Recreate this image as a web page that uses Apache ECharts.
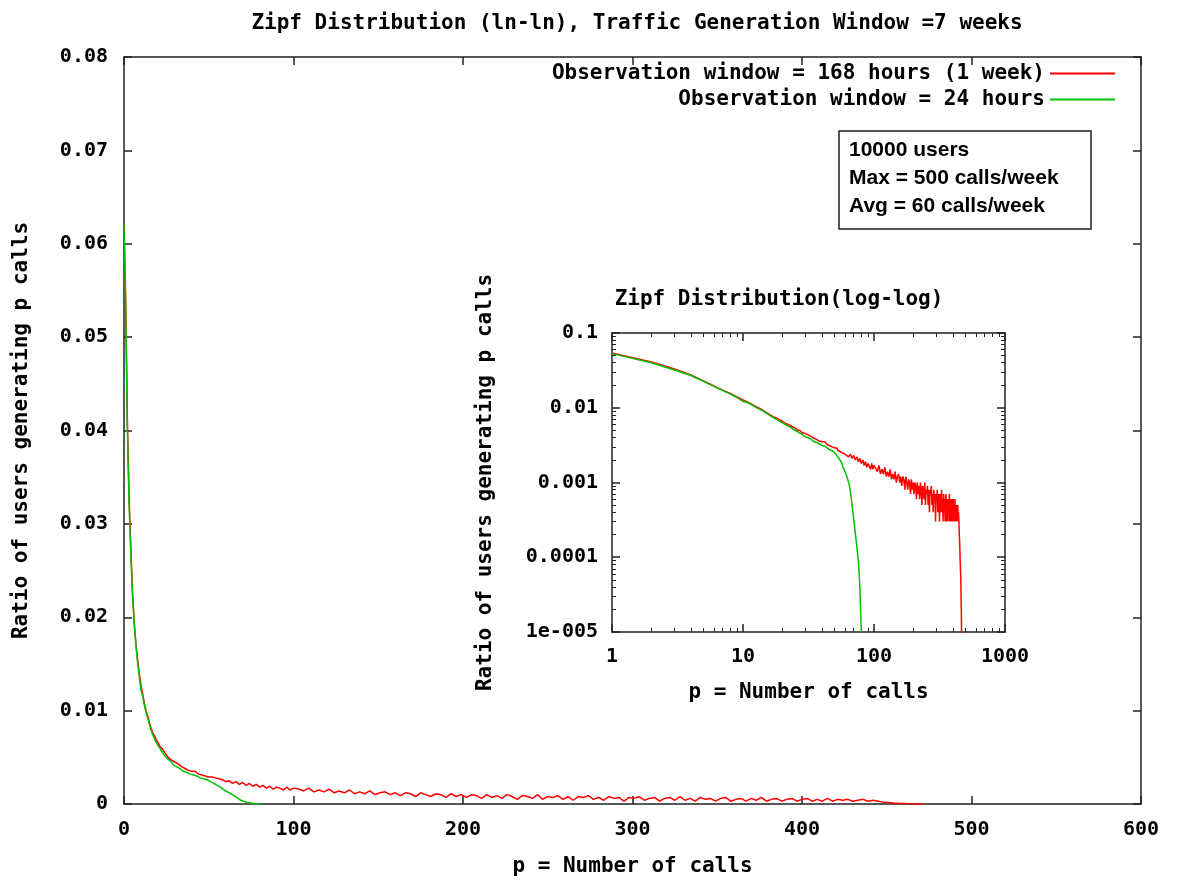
<!DOCTYPE html>
<html>
<head>
<meta charset="utf-8">
<title>Zipf Distribution</title>
<script src="https://cdn.jsdelivr.net/npm/echarts@6/dist/echarts.min.js"></script>
<style>
  html, body { margin: 0; padding: 0; background: #fff; }
  #main { width: 1181px; height: 882px; }
</style>
</head>
<body>
<div id="main"></div>
<script>
// observation window = 168 hours (1 week)
var weekCalls = [
  0, 1, 2, 3, 4, 5, 6, 7, 8, 9, 10, 11, 12, 13, 14, 15, 16, 17, 18, 19, 20,
  21, 22, 23, 24, 25, 26, 27, 28, 29, 30, 31, 32, 33, 34, 35, 36, 37, 38, 39, 40,
  41, 42, 43, 44, 45, 46, 47, 48, 49, 50, 51, 52, 53, 54, 55, 56, 57, 58, 59, 60,
  62, 64, 66, 68, 70, 72, 74, 76, 78, 80, 82, 84, 86, 88, 90, 92, 94, 96, 98, 100,
  103, 106, 109, 112, 115, 118, 121, 124, 127, 130, 133, 136, 139, 142, 145, 148, 151, 154, 157, 160,
  163, 166, 169, 172, 175, 178, 181, 184, 187, 190, 193, 196, 199, 202, 205, 208, 211, 214, 217, 220,
  223, 226, 229, 232, 235, 238, 241, 244, 247, 250, 253, 256, 259, 262, 265, 268, 271, 274, 277, 280,
  283, 286, 289, 292, 295, 298, 301, 304, 307, 310, 313, 316, 319, 322, 325, 328, 331, 334, 337, 340,
  343, 346, 349, 352, 355, 358, 361, 364, 367, 370, 373, 376, 379, 382, 385, 388, 391, 394, 397, 400,
  403, 406, 409, 412, 415, 418, 421, 424, 427, 430, 433, 436, 439, 442, 445,
  448, 451, 454, 457, 460, 462, 464, 466, 468, 470, 472
];
var weekRatio = [
  0.062, 0.054, 0.041, 0.033, 0.0275, 0.0228, 0.0196, 0.0172, 0.0155, 0.0140, 0.0127,
  0.0118, 0.0108, 0.0100, 0.0094, 0.0087, 0.0081, 0.0076, 0.0073, 0.0069, 0.0066,
  0.0062, 0.0060, 0.0058, 0.0055, 0.0054, 0.0050, 0.0050, 0.0047, 0.0047, 0.0045,
  0.0043, 0.0043, 0.0041, 0.0040, 0.0040, 0.0038, 0.0038, 0.0036, 0.0037, 0.0035,
  0.0034, 0.0035, 0.0033, 0.0032, 0.0033, 0.0031, 0.0031, 0.0030, 0.0031, 0.0029,
  0.0028, 0.0029, 0.0027, 0.0028, 0.0026, 0.0027, 0.0025, 0.0026, 0.0025, 0.0024,
  0.0025, 0.0022, 0.0024, 0.0021, 0.0023, 0.0020, 0.0022, 0.0019, 0.0021, 0.0018,
  0.0020, 0.0017, 0.0019, 0.0016, 0.0018, 0.0017, 0.0015, 0.0018, 0.0015, 0.0017,
  0.0016, 0.0014, 0.0017, 0.0013, 0.0015, 0.0013, 0.0016, 0.0012, 0.0014, 0.0012,
  0.0015, 0.0011, 0.0013, 0.0011, 0.0014, 0.0010, 0.0012, 0.0013, 0.0010, 0.0012,
  0.0009, 0.0012, 0.0011, 0.0008, 0.0012, 0.0010, 0.0008, 0.0011, 0.0010, 0.0007,
  0.0011, 0.0008, 0.0010, 0.0007, 0.0010, 0.0009, 0.0006, 0.0010, 0.0007, 0.0009,
  0.0006, 0.0010, 0.0008, 0.0005, 0.0009, 0.0008, 0.0006, 0.0010, 0.0005, 0.0008,
  0.0007, 0.0009, 0.0005, 0.0008, 0.0004, 0.0008, 0.0007, 0.0009, 0.0005, 0.0007,
  0.0004, 0.0008, 0.0006, 0.0007, 0.0003, 0.0007, 0.0006, 0.0008, 0.0004, 0.0006,
  0.0007, 0.0003, 0.0006, 0.0007, 0.0004, 0.0008, 0.0004, 0.0006, 0.0003, 0.0007,
  0.0005, 0.0006, 0.0003, 0.0006, 0.0007, 0.0003, 0.0005, 0.0006, 0.0003, 0.0006,
  0.0004, 0.0007, 0.0003, 0.0005, 0.0006, 0.0003, 0.0005, 0.0006, 0.0003, 0.0005,
  0.0006, 0.0003, 0.0005, 0.0003, 0.0006, 0.0003, 0.0005, 0.0004, 0.0005, 0.0003,
  0.0004, 0.0005, 0.0003, 0.0004, 0.0003,
  0.0002, 0.00015, 0.0001, 0.00007, 0.00005, 0.00003, 0.00002, 0.00001, 0, 0.00001, 0
];

// observation window = 24 hours
var dayCalls = [
  0, 1, 2, 3, 4, 5, 6, 7, 8, 9, 10, 11, 12, 13, 14, 15, 16, 17, 18, 19, 20,
  21, 22, 23, 24, 25, 26, 27, 28, 29, 30, 31, 32, 33, 34, 35, 36, 37, 38, 39, 40,
  41, 42, 43, 44, 45, 46, 47, 48, 49, 50, 51, 52, 53, 54, 55, 56, 57, 58, 59, 60,
  61, 62, 63, 64, 65, 66, 67, 68, 69, 70, 71, 72, 73, 74, 75, 76, 77, 78, 79, 80, 81
];
var dayRatio = [
  0.062, 0.053, 0.040, 0.032, 0.0270, 0.0225, 0.0193, 0.0170, 0.0152, 0.0137, 0.0122,
  0.0116, 0.0106, 0.0098, 0.0092, 0.0085, 0.0079, 0.0074, 0.0070, 0.0066, 0.0063,
  0.0060, 0.0057, 0.0055, 0.0052, 0.0050, 0.0048, 0.0046, 0.0045, 0.0042, 0.0042,
  0.0040, 0.0039, 0.0038, 0.0037, 0.0035, 0.0035, 0.0034, 0.0033, 0.0032, 0.0032,
  0.0031, 0.0030, 0.0030, 0.0029, 0.0028, 0.0028, 0.0027, 0.0026, 0.0026, 0.0025,
  0.0024, 0.0023, 0.0022, 0.0021, 0.0020, 0.0019, 0.0018, 0.0016, 0.0015, 0.0014,
  0.0013, 0.0012, 0.0011, 0.0010, 0.00090, 0.00075, 0.00062, 0.00050, 0.00040, 0.00033,
  0.00026, 0.00021, 0.00017, 0.00014, 0.00011, 0.00009, 0.00006, 0.00004, 0.00002, 0.00001, 0
];

var weekName = 'Observation window = 168 hours (1 week)';
var dayName = 'Observation window = 24 hours';
var insetYLabels = ['1e-005', '0.0001', '0.001', '0.01', '0.1'];
var insetXMinor = [2, 3, 4, 5, 6, 7, 8, 9, 20, 30, 40, 50, 60, 70, 80, 90, 200, 300, 400, 500, 600, 700, 800, 900];
var insetYMinor = [
  0.00002, 0.00003, 0.00004, 0.00005, 0.00006, 0.00007, 0.00008, 0.00009,
  0.0002, 0.0003, 0.0004, 0.0005, 0.0006, 0.0007, 0.0008, 0.0009,
  0.002, 0.003, 0.004, 0.005, 0.006, 0.007, 0.008, 0.009,
  0.02, 0.03, 0.04, 0.05, 0.06, 0.07, 0.08, 0.09
];

var MONO = 'DejaVu Sans Mono';
var RED = '#ff0000';
var GREEN = '#00c000';

function pairs(xs, ys) {
  return xs.map(function (x, i) { return [x, ys[i]]; });
}
// log axes cannot show p = 0 or a ratio of 0, so drop p = 0 and push zeros below the axis
function logPairs(xs, ys) {
  var out = [];
  for (var i = 0; i < xs.length; i++) {
    if (xs[i] < 1) continue;
    out.push([xs[i], ys[i] > 0 ? ys[i] : 1e-7]);
  }
  return out;
}

var labelFont = { fontFamily: MONO, fontWeight: 'bold', fontSize: 20, color: '#000' };
var nameFont = { fontFamily: MONO, fontWeight: 'bold', fontSize: 21, color: '#000' };
var axisLine = { show: true, onZero: false, lineStyle: { color: '#222', width: 1.5 } };

function mirror(base) {
  return Object.assign({
    axisLine: axisLine,
    axisTick: { show: true, inside: true, length: 8, lineStyle: { color: '#222', width: 1.5 } },
    axisLabel: { show: false },
    splitLine: { show: false }
  }, base);
}
function minorTicks(vals) {
  return { show: true, inside: true, length: 4, customValues: vals, lineStyle: { color: '#222', width: 1 } };
}

var chart = echarts.init(document.getElementById('main'));
var option = {
  animation: false,
  backgroundColor: '#fff',
  title: [
    { text: 'Zipf Distribution (ln-ln), Traffic Generation Window =7 weeks',
      left: 632, top: 8, textAlign: 'center', textStyle: nameFont },
    { text: 'Zipf Distribution(log-log)',
      left: 774, top: 284, textAlign: 'center', textStyle: nameFont }
  ],
  legend: [
    { data: [weekName], right: 66, top: 63, align: 'right', icon: 'rect',
      itemWidth: 65, itemHeight: 2, padding: 0, textStyle: nameFont },
    { data: [dayName], right: 66, top: 89, align: 'right', icon: 'rect',
      itemWidth: 65, itemHeight: 2, padding: 0, textStyle: nameFont }
  ],
  grid: [
    { left: 124, top: 57, width: 1017, height: 749 },
    { left: 612, top: 333, width: 393, height: 299 }
  ],
  xAxis: [
    mirror({ gridIndex: 0, type: 'value', position: 'bottom', min: 0, max: 600, interval: 100,
      name: 'p = Number of calls', nameLocation: 'middle', nameGap: 52, nameTextStyle: nameFont,
      axisLabel: Object.assign({ show: true, margin: 16 }, labelFont) }),
    mirror({ gridIndex: 0, type: 'value', position: 'top', min: 0, max: 600, interval: 100 }),
    mirror({ gridIndex: 1, type: 'log', logBase: 10, position: 'bottom', min: 1, max: 1000,
      name: 'p = Number of calls', nameLocation: 'middle', nameGap: 50, nameTextStyle: nameFont,
      axisLabel: Object.assign({ show: true, margin: 15, formatter: function (v) {
        return String(Math.round(v));
      } }, labelFont) }),
    mirror({ gridIndex: 1, type: 'log', logBase: 10, position: 'top', min: 1, max: 1000 }),
    mirror({ gridIndex: 1, type: 'log', logBase: 10, position: 'bottom', min: 1, max: 1000,
      axisLine: { show: false, onZero: false }, axisTick: minorTicks(insetXMinor) }),
    mirror({ gridIndex: 1, type: 'log', logBase: 10, position: 'top', min: 1, max: 1000,
      axisLine: { show: false, onZero: false }, axisTick: minorTicks(insetXMinor) })
  ],
  yAxis: [
    mirror({ gridIndex: 0, type: 'value', position: 'left', min: 0, max: 0.08, interval: 0.01,
      name: 'Ratio of users generating p calls', nameLocation: 'middle', nameGap: 92, nameTextStyle: nameFont,
      axisLabel: Object.assign({ show: true, margin: 16 }, labelFont) }),
    mirror({ gridIndex: 0, type: 'value', position: 'right', min: 0, max: 0.08, interval: 0.01 }),
    mirror({ gridIndex: 1, type: 'log', logBase: 10, position: 'left', min: 0.00001, max: 0.1,
      name: 'Ratio of users generating p calls', nameLocation: 'middle', nameGap: 116, nameTextStyle: nameFont,
      axisLabel: Object.assign({ show: true, margin: 14, formatter: function (v) {
        var k = Math.round(Math.log(v) / Math.LN10) + 5;
        return insetYLabels[k];
      } }, labelFont) }),
    mirror({ gridIndex: 1, type: 'log', logBase: 10, position: 'right', min: 0.00001, max: 0.1 }),
    mirror({ gridIndex: 1, type: 'log', logBase: 10, position: 'left', min: 0.00001, max: 0.1,
      axisLine: { show: false, onZero: false }, axisTick: minorTicks(insetYMinor) }),
    mirror({ gridIndex: 1, type: 'log', logBase: 10, position: 'right', min: 0.00001, max: 0.1,
      axisLine: { show: false, onZero: false }, axisTick: minorTicks(insetYMinor) })
  ],
  series: [
    { name: weekName, type: 'line', xAxisIndex: 0, yAxisIndex: 0, showSymbol: false, symbol: 'none',
      color: RED, lineStyle: { color: RED, width: 1.5 }, data: pairs(weekCalls, weekRatio) },
    { name: dayName, type: 'line', xAxisIndex: 0, yAxisIndex: 0, showSymbol: false, symbol: 'none',
      color: GREEN, lineStyle: { color: GREEN, width: 1.5 }, data: pairs(dayCalls, dayRatio) },
    { name: weekName, type: 'line', xAxisIndex: 2, yAxisIndex: 2, showSymbol: false, symbol: 'none',
      color: RED, lineStyle: { color: RED, width: 1.5 }, data: logPairs(weekCalls, weekRatio) },
    { name: dayName, type: 'line', xAxisIndex: 2, yAxisIndex: 2, showSymbol: false, symbol: 'none',
      color: GREEN, lineStyle: { color: GREEN, width: 1.5 }, data: logPairs(dayCalls, dayRatio) }
  ],
  graphic: [
    { type: 'rect', shape: { x: 839, y: 131, width: 252, height: 98 },
      style: { fill: '#fff', stroke: '#222', lineWidth: 1.5 }, z: 100 },
    { type: 'text', x: 849, y: 136, z: 101,
      style: { text: '10000 users\nMax = 500 calls/week\nAvg = 60 calls/week',
        font: 'bold 21px "Liberation Sans"', lineHeight: 28, fill: '#000' } }
  ]
};
chart.setOption(option);
</script>
</body>
</html>
